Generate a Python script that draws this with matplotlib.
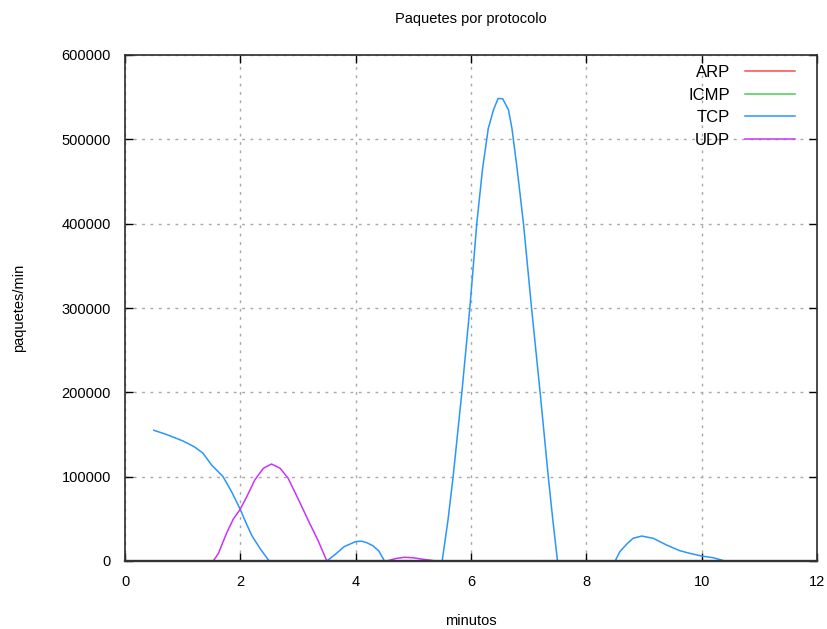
import matplotlib
matplotlib.use("Agg")
import matplotlib.pyplot as plt

# paquetes por minuto, por protocolo
tcp_min = [0.5, 0.7, 1.0, 1.2, 1.35, 1.5, 1.7, 1.85, 2.0, 2.1, 2.2, 2.35, 2.5,
           3.0, 3.5, 3.65, 3.8, 4.0, 4.1, 4.2, 4.3, 4.4, 4.5, 5.0, 5.5, 5.6,
           5.69, 5.84, 5.98, 6.1, 6.2, 6.3, 6.39, 6.47, 6.55, 6.65, 6.71,
           6.8, 6.91, 7.05, 7.2, 7.34, 7.42, 7.5, 8.0, 8.5, 8.58, 8.7, 8.81,
           8.96, 9.16, 9.39, 9.62, 9.8, 10.0, 10.2, 10.4, 10.5]
tcp = [155000, 150500, 142500, 135500, 128000, 114000, 100000, 82000, 61000,
       45000, 30000, 14000, 0, 0, 0, 8000, 17000, 23000, 23500, 21500, 18000,
       12000, 0, 0, 0, 48000, 100000, 199000, 300000, 400000, 465000, 513000,
       535000, 548500, 548000, 535000, 513000, 465000, 400000, 300000, 199000,
       100000, 48000, 0, 0, 0, 11000, 20000, 26900, 29600, 26900, 19000,
       12200, 9000, 5900, 3900, 0, 0]

udp_min = [0.5, 1.0, 1.53, 1.62, 1.76, 1.88, 1.99, 2.11, 2.25, 2.4, 2.54,
           2.69, 2.83, 3.0, 3.2, 3.35, 3.5, 4.0, 4.54, 4.7, 4.85, 5.0, 5.15,
           5.4, 5.5, 6.0, 7.0, 8.0, 9.0, 10.0, 10.5]
udp = [0, 0, 0, 9000, 32800, 50000, 60500, 76000, 96000, 110000, 115000,
       110000, 98000, 74000, 45000, 24000, 0, 0, 0, 3000, 4400, 3800, 2200,
       0, 0, 0, 0, 0, 0, 0, 0]

arp_min = [0.5, 2.5, 4.5, 6.5, 8.5, 10.5]
arp = [0, 0, 0, 0, 0, 0]
icmp_min = [0.5, 2.5, 4.5, 6.5, 8.5, 10.5]
icmp = [0, 0, 0, 0, 0, 0]

plt.rcParams['font.family'] = ['Liberation Sans', 'DejaVu Sans']

fig = plt.figure(figsize=(8.27, 6.29), dpi=100)
ax = fig.add_axes([125 / 827, 1 - 561 / 629, 692 / 827, 506 / 629])

ax.plot(arp_min, arp, color='#ff4c4c', lw=1.1, label='ARP')
ax.plot(icmp_min, icmp, color='#4ccc4c', lw=1.1, label='ICMP')
ax.plot(tcp_min, tcp, color='#2a95ff', lw=1.1, label='TCP')
ax.plot(udp_min, udp, color='#c833ff', lw=1.1, label='UDP')

ax.set_xlim(0, 12)
ax.set_ylim(0, 600000)
ax.set_xticks(range(0, 13, 2))
ax.set_yticks(range(0, 600001, 100000))

ax.grid(True, color='#a8a8a8', linestyle=(0, (2, 4)), linewidth=1)
ax.set_axisbelow(True)
ax.tick_params(direction='in', length=6, width=1, top=True, right=True,
               labelsize=10.5, pad=10)
for s in ax.spines.values():
    s.set_linewidth(1.25)
    s.set_color('#333333')
    s.set_zorder(5)
# the bottom frame is a bit heavier so the zero segments sit under it
ax.spines['bottom'].set_linewidth(1.7)

ax.set_title('Paquetes por protocolo', fontsize=10.5, pad=23)
ax.set_xlabel('minutos', fontsize=10.5, labelpad=18)
ax.set_ylabel('paquetes/min', fontsize=10.5, labelpad=26)

ax.legend(loc='upper right', bbox_to_anchor=(0.988, 1.006), frameon=False,
          markerfirst=False, fontsize=12, handlelength=3.0, handletextpad=0.9,
          labelspacing=0.45, borderaxespad=0.4)

fig.savefig('out.png', dpi=100)
